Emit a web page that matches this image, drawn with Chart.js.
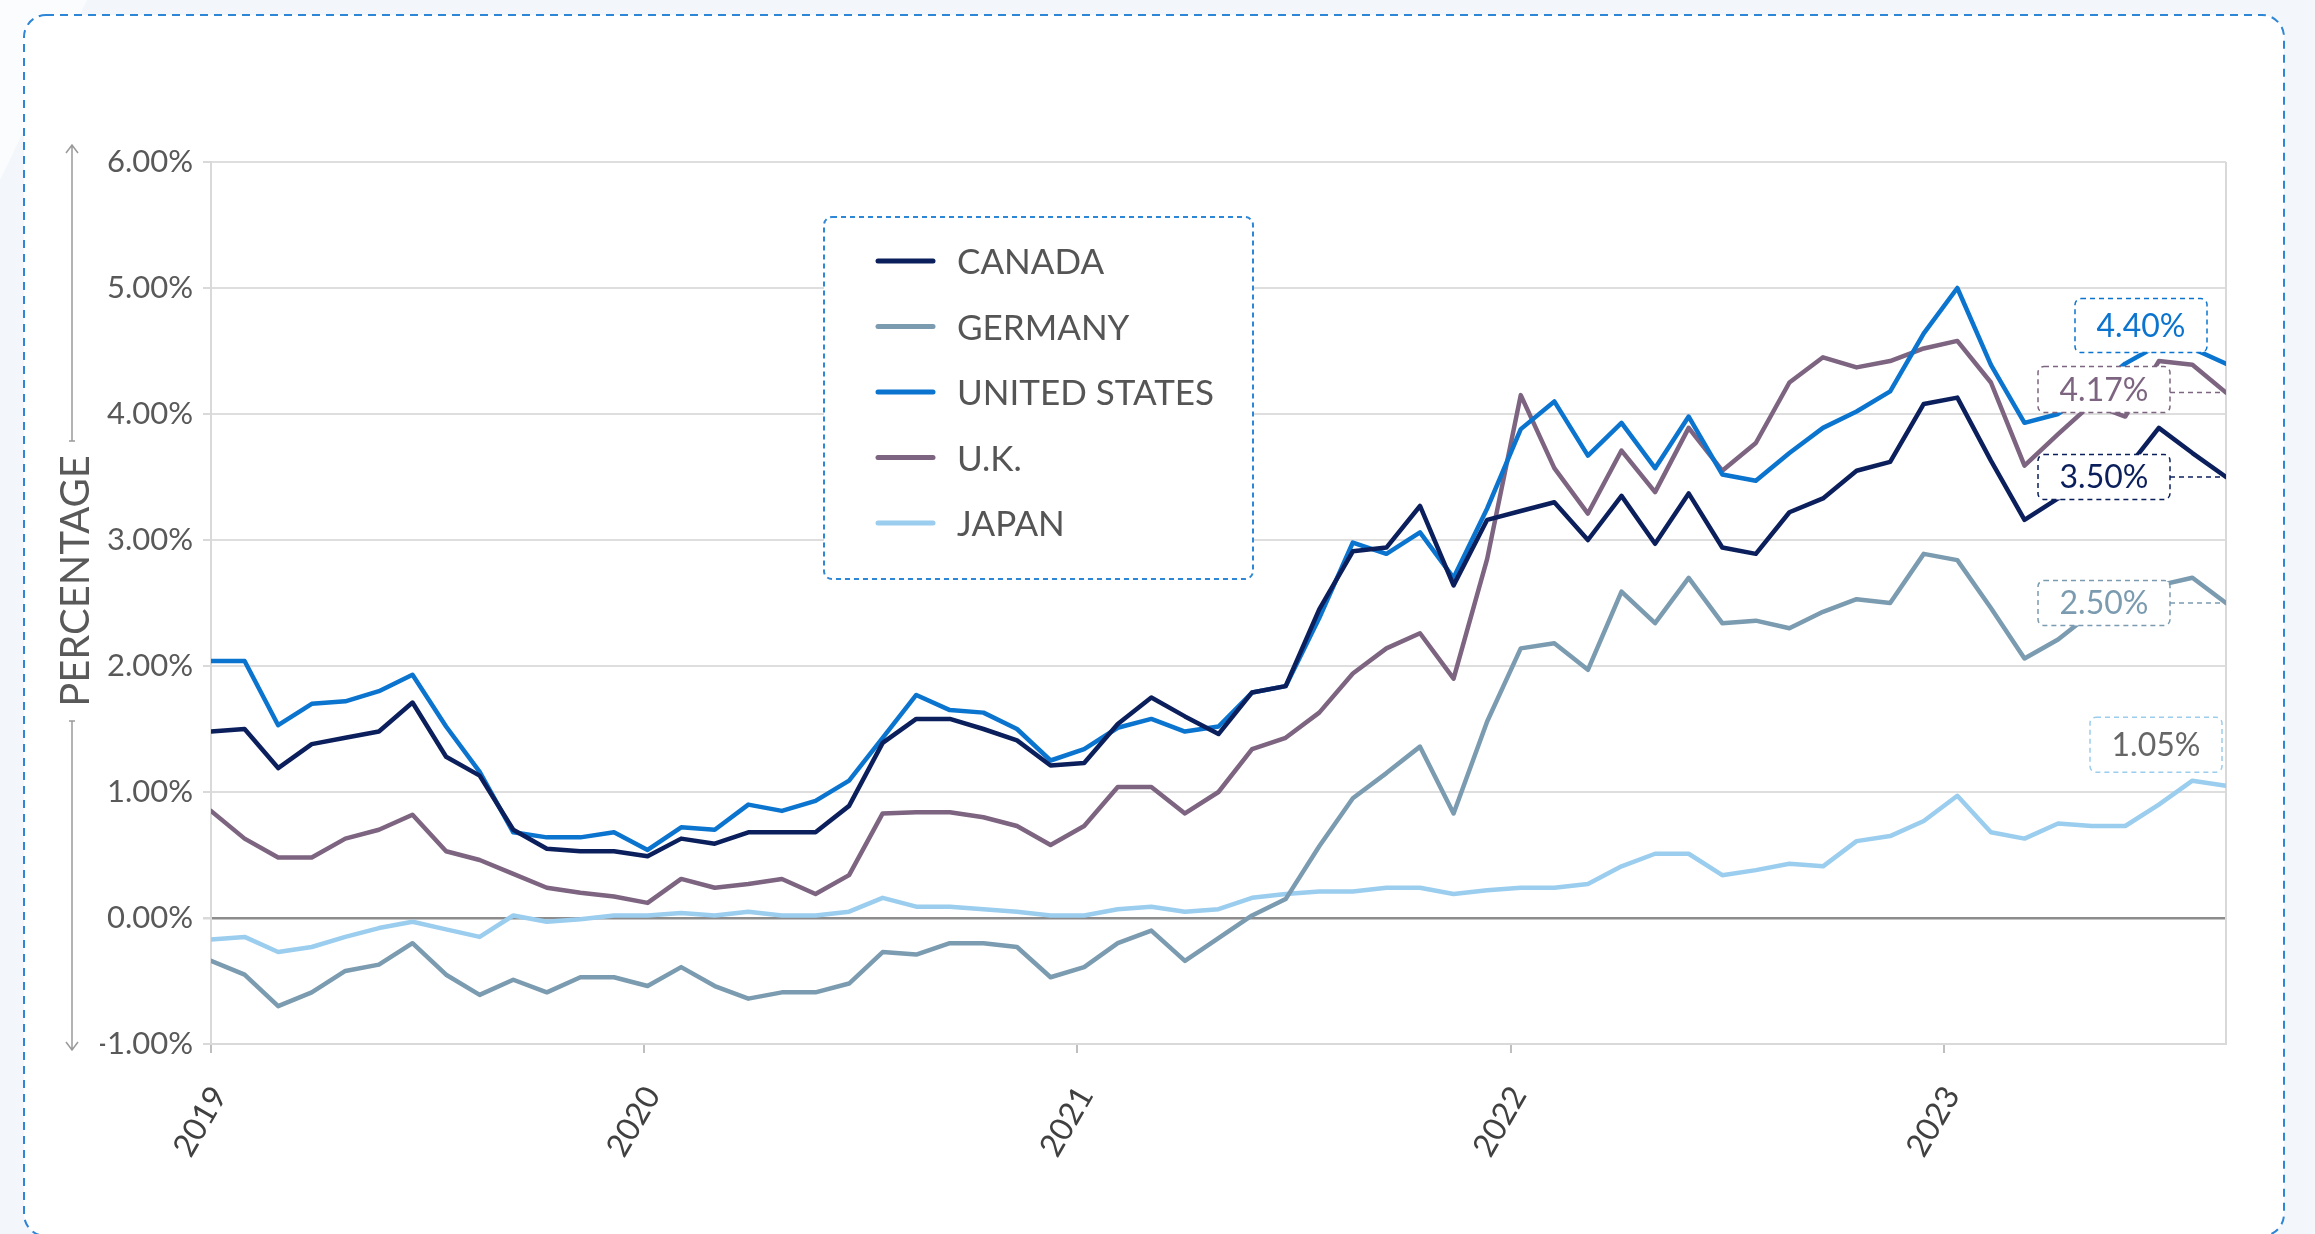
<!DOCTYPE html>
<html>
<head>
<meta charset="utf-8">
<script src="https://cdn.jsdelivr.net/npm/chart.js@4.4.0/dist/chart.umd.min.js"></script>
<style>
  html, body { margin: 0; padding: 0; background: #f3f6fb; }
  canvas { display: block; }
</style>
</head>
<body>
<canvas id="myChart" width="2315" height="1234"></canvas>
<script>
const ctx = document.getElementById("myChart");

// x axis: one entry per reporting period, year labels every ~12.9 periods
const periods = Array.from({ length: 61 }, (_, i) => i);
const yearLabels = ["2019", "2020", "2021", "2022", "2023"];
const periodsPerYear = 12.9;

const countries = ["CANADA", "GERMANY", "UNITED STATES", "U.K.", "JAPAN"];
const colors = ["#0b1f5c", "#7b9bb0", "#0a74cf", "#7d6480", "#9bcdee"];

const canada = [
  1.48, 1.50, 1.19, 1.38, 1.43, 1.48, 1.71, 1.28, 1.13, 0.70,
  0.55, 0.53, 0.53, 0.49, 0.63, 0.59, 0.68, 0.68, 0.68, 0.89,
  1.39, 1.58, 1.58, 1.50, 1.41, 1.21, 1.23, 1.54, 1.75, 1.60,
  1.46, 1.79, 1.84, 2.45, 2.91, 2.94, 3.27, 2.64, 3.16, 3.23,
  3.30, 3.00, 3.35, 2.97, 3.37, 2.94, 2.89, 3.22, 3.33, 3.55,
  3.62, 4.08, 4.13, 3.63, 3.16, 3.33, 3.45, 3.55, 3.89, 3.69,
  3.50
];
const germany = [
  -0.34, -0.45, -0.70, -0.59, -0.42, -0.37, -0.20, -0.45, -0.61, -0.49,
  -0.59, -0.47, -0.47, -0.54, -0.39, -0.54, -0.64, -0.59, -0.59, -0.52,
  -0.27, -0.29, -0.20, -0.20, -0.23, -0.47, -0.39, -0.20, -0.10, -0.34,
  -0.16, 0.02, 0.15, 0.57, 0.95, 1.15, 1.36, 0.83, 1.56, 2.14,
  2.18, 1.97, 2.59, 2.34, 2.70, 2.34, 2.36, 2.30, 2.43, 2.53,
  2.50, 2.89, 2.84, 2.46, 2.06, 2.21, 2.42, 2.34, 2.64, 2.70,
  2.50
];
const unitedStates = [
  2.04, 2.04, 1.53, 1.70, 1.72, 1.80, 1.93, 1.52, 1.16, 0.68,
  0.64, 0.64, 0.68, 0.54, 0.72, 0.70, 0.90, 0.85, 0.93, 1.09,
  1.43, 1.77, 1.65, 1.63, 1.50, 1.25, 1.34, 1.51, 1.58, 1.48,
  1.52, 1.79, 1.84, 2.38, 2.98, 2.89, 3.06, 2.70, 3.25, 3.88,
  4.10, 3.67, 3.93, 3.57, 3.98, 3.52, 3.47, 3.69, 3.89, 4.02,
  4.18, 4.64, 5.00, 4.39, 3.93, 4.00, 4.18, 4.40, 4.55, 4.52,
  4.40
];
const uk = [
  0.85, 0.63, 0.48, 0.48, 0.63, 0.70, 0.82, 0.53, 0.46, 0.35,
  0.24, 0.20, 0.17, 0.12, 0.31, 0.24, 0.27, 0.31, 0.19, 0.34,
  0.83, 0.84, 0.84, 0.80, 0.73, 0.58, 0.73, 1.04, 1.04, 0.83,
  1.00, 1.34, 1.43, 1.63, 1.94, 2.14, 2.26, 1.90, 2.85, 4.15,
  3.57, 3.21, 3.71, 3.38, 3.89, 3.55, 3.77, 4.25, 4.45, 4.37,
  4.42, 4.52, 4.58, 4.25, 3.59, 3.84, 4.08, 3.98, 4.42, 4.39,
  4.17
];
const japan = [
  -0.17, -0.15, -0.27, -0.23, -0.15, -0.08, -0.03, -0.09, -0.15, 0.02,
  -0.03, -0.01, 0.02, 0.02, 0.04, 0.02, 0.05, 0.02, 0.02, 0.05,
  0.16, 0.09, 0.09, 0.07, 0.05, 0.02, 0.02, 0.07, 0.09, 0.05,
  0.07, 0.16, 0.19, 0.21, 0.21, 0.24, 0.24, 0.19, 0.22, 0.24,
  0.24, 0.27, 0.41, 0.51, 0.51, 0.34, 0.38, 0.43, 0.41, 0.61,
  0.65, 0.77, 0.97, 0.68, 0.63, 0.75, 0.73, 0.73, 0.90, 1.09,
  1.05
];
const series = [canada, germany, unitedStates, uk, japan];

// how each end-of-line value box sits next to its line
const endBoxes = [
  { fromRight: 56, dy: 0, h: 45, text: "#0b1f5c", leader: true },
  { fromRight: 56, dy: 0, h: 45, text: "#7b9bb0", leader: true },
  { fromRight: 19, dy: -38, h: 54, text: "#0a74cf", leader: false },
  { fromRight: 56, dy: -3, h: 46, text: "#7d6480", leader: true },
  { fromRight: 4, dy: -41, h: 55, text: "#666666", leader: false },
];

const decor = {
  id: "decor",
  beforeDraw(chart) {
    const c = chart.ctx;
    c.save();
    c.fillStyle = "#f3f6fb";
    c.fillRect(0, 0, chart.width, chart.height);
    c.fillStyle = "#fbfcfe";
    c.beginPath();
    c.moveTo(0, 0); c.lineTo(87, 0); c.lineTo(0, 180); c.closePath();
    c.fill();
    // card
    c.fillStyle = "#ffffff";
    c.beginPath();
    c.roundRect(24, 15, 2260, 1221, 22);
    c.fill();
    c.setLineDash([8, 6]);
    c.lineWidth = 2;
    c.strokeStyle = "#2e86d6";
    c.stroke();
    c.restore();
  },
  beforeDatasetsDraw(chart) {
    const c = chart.ctx;
    const a = chart.chartArea;
    c.save();
    c.strokeStyle = "#d9d9d9";
    c.lineWidth = 2;
    c.beginPath();
    c.moveTo(a.right, a.top); c.lineTo(a.right, a.bottom);
    c.stroke();

    // legend box
    c.fillStyle = "#ffffff";
    c.beginPath();
    c.roundRect(824, 217, 429, 362, 8);
    c.fill();
    c.setLineDash([5, 4]);
    c.strokeStyle = "#2e86d6";
    c.stroke();
    c.setLineDash([]);
    countries.forEach((name, k) => {
      const cy = 261 + k * 65.5;
      c.lineCap = "round";
      c.lineWidth = 5;
      c.strokeStyle = colors[k];
      c.beginPath();
      c.moveTo(878, cy); c.lineTo(933, cy);
      c.stroke();
      c.fillStyle = "#555555";
      c.font = "35px Lato";
      c.textBaseline = "middle";
      c.textAlign = "left";
      c.fillText(name, 957, cy + 2);
    });

    // axis title with arrows
    c.strokeStyle = "#9a9a9a";
    c.lineWidth = 1.5;
    c.lineCap = "butt";
    c.beginPath();
    c.moveTo(72, 145); c.lineTo(72, 441);
    c.moveTo(66, 153); c.lineTo(72, 145); c.lineTo(78, 153);
    c.moveTo(69, 441); c.lineTo(75, 441);
    c.moveTo(72, 721); c.lineTo(72, 1050);
    c.moveTo(66, 1042); c.lineTo(72, 1050); c.lineTo(78, 1042);
    c.moveTo(69, 721); c.lineTo(75, 721);
    c.stroke();
    c.translate(76, 581);
    c.rotate(-Math.PI / 2);
    c.font = "40px Lato";
    c.fillStyle = "#595959";
    c.textAlign = "center";
    c.textBaseline = "middle";
    c.fillText("PERCENTAGE", 0, 0);
    c.restore();
  },
  afterDatasetsDraw(chart) {
    const c = chart.ctx;
    const a = chart.chartArea;
    const yScale = chart.scales.y;
    c.save();
    series.forEach((vals, i) => {
      const st = endBoxes[i];
      const last = vals[vals.length - 1];
      const y = yScale.getPixelForValue(last);
      const x1 = a.right - st.fromRight;
      const w = 132;
      const cy = y + st.dy;
      c.setLineDash([5, 4]);
      c.lineWidth = 1.5;
      c.strokeStyle = colors[i];
      if (st.leader) {
        c.beginPath();
        c.moveTo(x1, y); c.lineTo(a.right, y);
        c.stroke();
      }
      c.fillStyle = "#ffffff";
      c.beginPath();
      c.roundRect(x1 - w, cy - st.h / 2, w, st.h, 6);
      c.fill();
      c.stroke();
      c.fillStyle = st.text;
      c.font = "32px Lato";
      c.textAlign = "center";
      c.textBaseline = "middle";
      c.fillText(last.toFixed(2) + "%", x1 - w / 2, cy + 1);
    });
    c.restore();
  }
};

Chart.defaults.font.family = "Lato";

new Chart(ctx, {
  type: "line",
  data: {
    labels: periods,
    datasets: countries.map((name, k) => ({
      label: name,
      data: series[k],
      borderColor: colors[k],
      backgroundColor: colors[k],
    })),
  },
  options: {
    responsive: false,
    animation: false,
    layout: { padding: { left: 100, right: 89, top: 162, bottom: 70 } },
    plugins: { legend: { display: false }, tooltip: { enabled: false } },
    elements: {
      point: { radius: 0 },
      line: { borderWidth: 4.5, tension: 0, borderJoinStyle: "round", borderCapStyle: "round" },
    },
    scales: {
      x: {
        type: "linear",
        min: 0,
        max: periods.length - 1,
        afterBuildTicks: (axis) => {
          axis.ticks = yearLabels.map((_, k) => ({ value: k * periodsPerYear }));
        },
        afterFit: (axis) => { axis.height = 120; },
        ticks: {
          autoSkip: false,
          minRotation: 60,
          maxRotation: 60,
          padding: 27,
          labelOffset: 8,
          color: "#404040",
          font: { size: 32 },
          callback: (v, i) => yearLabels[i],
        },
        grid: { drawOnChartArea: false, drawTicks: true, tickLength: 9, color: "#bfbfbf", lineWidth: 2 },
        border: { color: "#d9d9d9", width: 2 },
      },
      y: {
        min: -1,
        max: 6,
        afterFit: (axis) => { axis.width = 111; },
        ticks: {
          stepSize: 1,
          padding: 10,
          color: "#595959",
          font: { size: 31 },
          callback: (v) => v.toFixed(2) + "%",
        },
        grid: {
          color: (c) => (c.tick && c.tick.value === 0 ? "#8c8c8c" : "#dedede"),
          lineWidth: (c) => (c.tick && c.tick.value === 0 ? 2.5 : 2),
          tickLength: 8,
          tickColor: "#d9d9d9",
        },
        border: { color: "#d9d9d9", width: 2 },
      },
    },
  },
  plugins: [decor],
});
</script>
</body>
</html>
